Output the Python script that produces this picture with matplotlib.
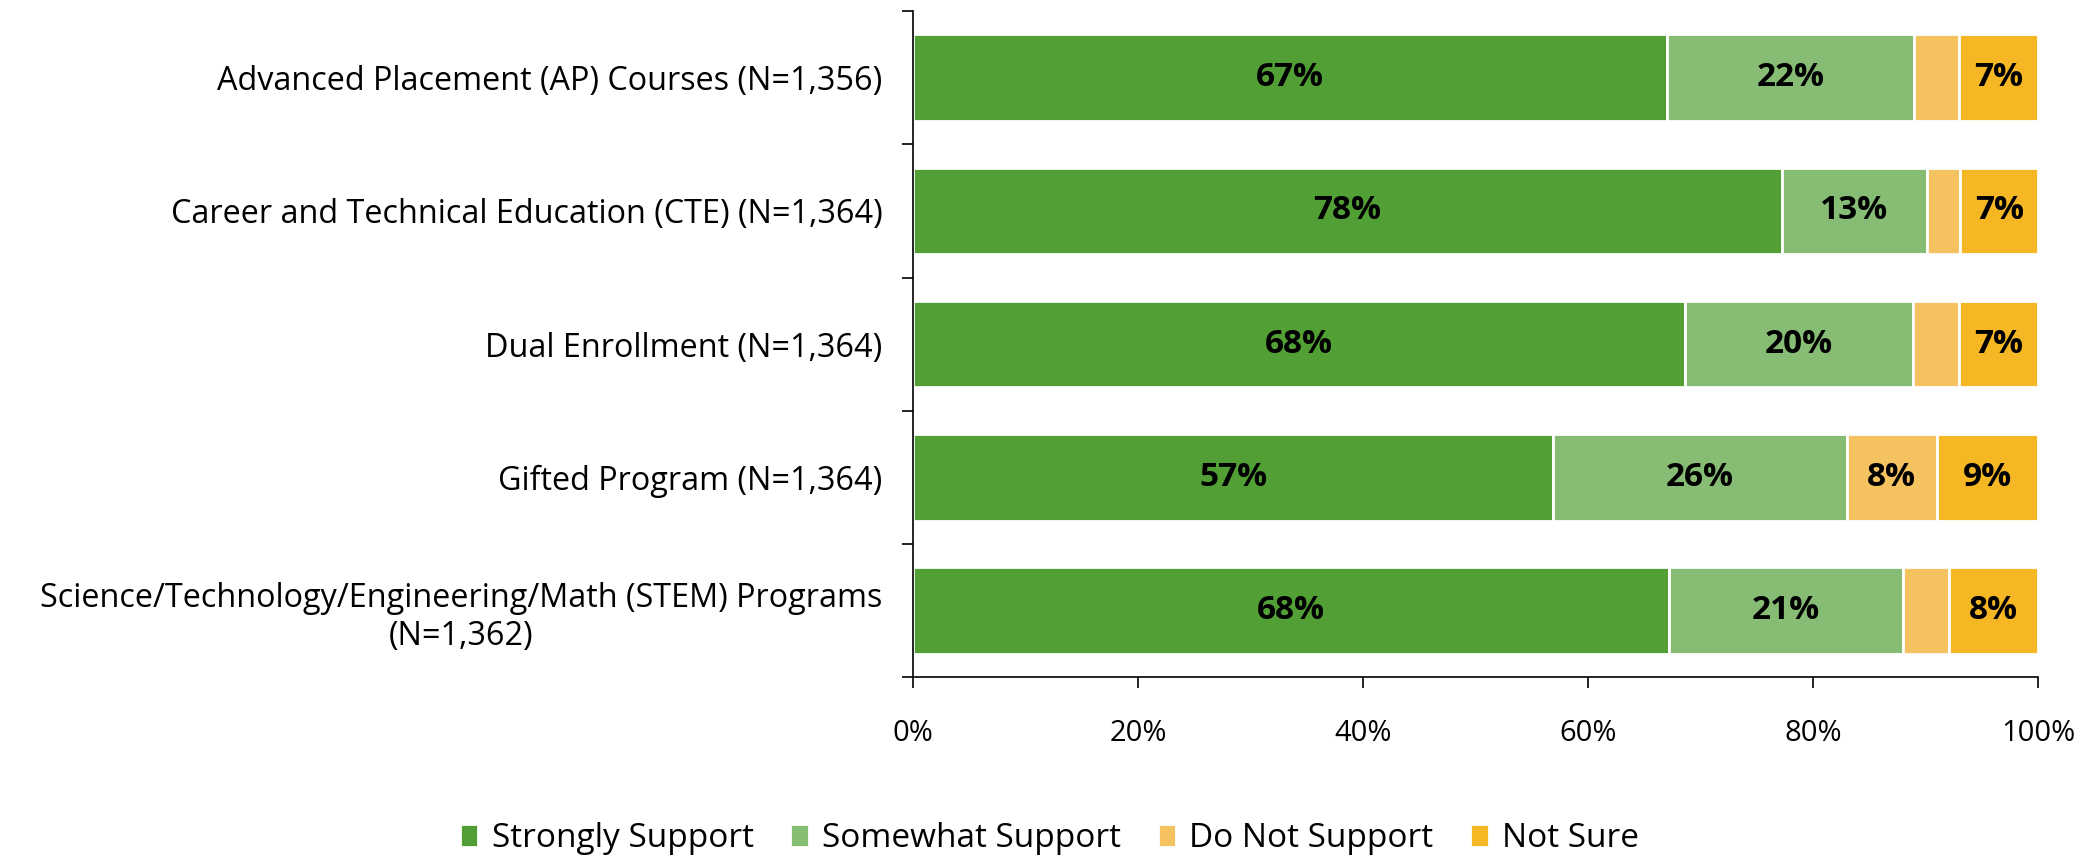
import matplotlib.pyplot as plt
import numpy as np

categories = [
    'Advanced Placement (AP) Courses (N=1,356)',
    'Career and Technical Education (CTE) (N=1,364)',
    'Dual Enrollment (N=1,364)',
    'Gifted Program (N=1,364)',
    'Science/Technology/Engineering/Math (STEM) Programs\n(N=1,362)',
]
series_names = ['Strongly Support', 'Somewhat Support', 'Do Not Support', 'Not Sure']
strongly = [67.0, 77.2, 68.6, 56.9, 67.2]
somewhat = [22.0, 12.9, 20.3, 26.1, 20.8]
do_not = [4.0, 3.0, 4.1, 8.0, 4.1]
not_sure = [7.0, 6.9, 7.0, 9.0, 7.9]
labels_strongly = ['67%', '78%', '68%', '57%', '68%']
labels_somewhat = ['22%', '13%', '20%', '26%', '21%']
labels_do_not = ['', '', '', '8%', '']
labels_not_sure = ['7%', '7%', '7%', '9%', '8%']
colors = ['#52A035', '#86BC73', '#F4C25F', '#F5B723']

plt.rcParams['font.family'] = ['Open Sans', 'DejaVu Sans']

fig = plt.figure(figsize=(20.99, 8.55), dpi=100)
ax = fig.add_axes([0.435, 0.208, 0.536, 0.779])

y = np.arange(len(categories))
left = np.zeros(len(categories))
all_vals = [strongly, somewhat, do_not, not_sure]
all_labels = [labels_strongly, labels_somewhat, labels_do_not, labels_not_sure]
for vals, labs, name, c in zip(all_vals, all_labels, series_names, colors):
    bars = ax.barh(y, vals, left=left, height=0.65, color=c, edgecolor='white',
                   linewidth=2, label=name)
    ax.bar_label(bars, labels=labs, label_type='center', fontsize=24,
                 fontweight='bold', color='black')
    left += np.array(vals)

ax.set_xlim(0, 100)
ax.set_ylim(len(categories) - 0.5, -0.5)
ax.set_xticks(np.arange(0, 101, 20))
ax.set_xticklabels([f'{v}%' for v in range(0, 101, 20)], fontsize=21)
ax.set_yticks(y)
ax.set_yticklabels(categories, fontsize=23.3, ha='right', multialignment='center')
ax.tick_params(axis='y', length=0, pad=22)
ax.set_yticks(np.arange(-0.5, len(categories)), minor=True)
ax.tick_params(axis='y', which='minor', length=8, width=1.2, direction='out')
ax.tick_params(axis='x', length=8, width=1.2, direction='out', pad=22)
for s in ['top', 'right']:
    ax.spines[s].set_visible(False)
ax.spines['left'].set_linewidth(1.2)
ax.spines['bottom'].set_linewidth(1.2)

fig.legend(loc='lower center', ncol=4, frameon=False, fontsize=24,
           bbox_to_anchor=(0.5, -0.035), handlelength=0.55, handleheight=0.7,
           columnspacing=1.1, handletextpad=0.4)

fig.savefig('out.png', dpi=100)
